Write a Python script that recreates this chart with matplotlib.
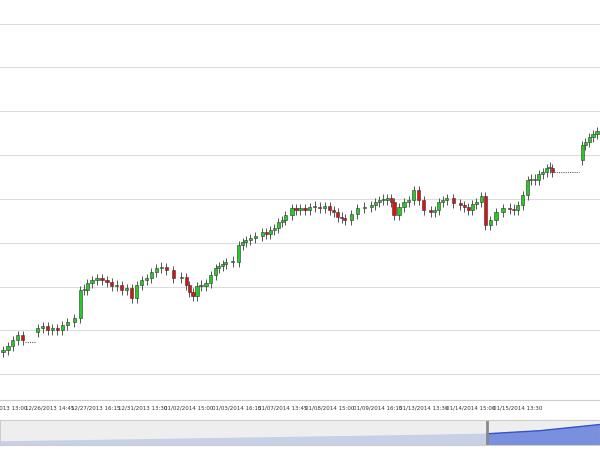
import matplotlib
matplotlib.use("Agg")
import matplotlib.pyplot as plt
import numpy as np

# candle x positions (time slot) and closing prices
xs = [0,5,10,15,20,35,40,45,50,55,60,65,72,78,82,85,90,95,100,105,110,115,120,125,130,135,140,145,150,155,160,165,172,180,185,188,192,196,200,205,210,215,218,222,225,232,238,242,245,250,255,262,266,270,274,278,282,285,292,296,300,305,310,315,320,325,330,334,338,342,345,352,358,365,372,376,380,384,388,392,395,400,405,410,415,420,425,432,436,440,444,448,455,462,466,470,474,478,483,487,492,498,505,512,516,520,525,530,533,537,541,545,549,552,555,585,588,592,596,600]
closes = [5.0,5.4,6.0,6.5,6.0,7.2,7.4,7.0,7.2,7.0,7.5,7.8,8.2,11.0,11.0,11.7,12.0,12.2,12.0,11.8,11.4,11.5,11.0,11.2,10.2,11.5,12.0,12.2,12.8,13.2,13.3,13.0,12.2,12.3,11.5,10.8,10.4,11.4,11.4,11.7,12.5,13.2,13.4,13.6,13.8,13.8,15.5,15.8,16.0,16.2,16.4,16.8,16.6,17.0,17.2,17.8,18.0,18.5,19.2,19.0,19.2,19.0,19.3,19.3,19.2,19.4,19.0,18.8,18.3,18.2,18.0,18.6,19.2,19.3,19.5,19.8,20.0,20.0,20.2,19.8,18.5,19.3,19.8,20.0,21.0,20.0,19.0,18.8,19.0,19.8,20.0,20.2,19.7,19.5,19.3,19.0,19.6,19.8,20.4,17.5,18.0,18.8,19.2,19.1,19.0,19.5,20.5,22.0,22.0,22.0,22.6,22.8,23.2,23.2,22.8,25.5,25.8,26.3,26.6,26.9]
opens = [4.8] + closes[:-1]
opens[5] = 6.8
opens[115] = 24.0
wick = 0.45
# dotted flat lines (no-trade periods)
flat_segments = [(22, 33, 5.8), (557, 582, 22.8)]
tick_pos = [0,47,94,141,188,236,283,330,378,425,472,520]
tick_labels = ["12/24/2013 13:00","12/26/2013 14:45","12/27/2013 16:15","12/31/2013 13:30",
               "01/02/2014 15:00","01/03/2014 16:15","01/07/2014 13:45","01/08/2014 15:00",
               "01/09/2014 16:15","01/13/2014 13:30","01/14/2014 15:00","01/15/2014 13:30"]
grid_levels = [2.6,7.0,11.3,15.7,20.1,24.5,28.9,33.3,37.6]
nav_x = [0,100,200,300,400,486,487,540,600]
nav_y = [1.0,1.5,2.0,2.5,3.0,3.5,3.5,4.5,6.5]

fig = plt.figure(figsize=(6,4.5), dpi=100)
ax = fig.add_axes([0,0.111,1,0.889])
ax.set_xlim(-3,603); ax.set_ylim(0,40)
for g in grid_levels:
    ax.axhline(g, color="#dcdcdc", lw=0.8, zorder=0)
for x,o,c in zip(xs,opens,closes):
    up = c >= o
    col = "#22cc22" if up else "#dd1111"
    lo, hi = min(o,c), max(o,c)
    if hi-lo < 0.15: hi = lo+0.15
    ax.vlines(x, lo-wick, hi+wick, color="#555555", lw=0.7, zorder=2)
    ax.bar(x, hi-lo, bottom=lo, width=3.2, color=col, edgecolor="#333333", lw=0.4, zorder=3)
for a,b,y in flat_segments:
    ax.plot([a,b],[y,y], ls=(0,(1,1)), color="#666666", lw=0.8)
ax.set_xticks(tick_pos); ax.set_xticklabels(tick_labels, fontsize=4, color="#333333")
ax.tick_params(axis="x", length=0, pad=4)
ax.set_yticks([])
for s in ["left","right","top"]:
    ax.spines[s].set_visible(False)
ax.spines["bottom"].set_color("#cccccc")

nav = fig.add_axes([0,0.012,1,0.055])
nav.set_facecolor("#eeeeee")
nav.set_xlim(0,600); nav.set_ylim(0,8)
nx = np.array(nav_x); ny = np.array(nav_y)
nav.fill_between(nx[:6], 0, ny[:6], color="#c8d0e8")
nav.fill_between(nx[6:], 0, ny[6:], color="#7890dd")
nav.plot(nx[6:], ny[6:], color="#3355cc", lw=1)
nav.axvline(487, color="#888888", lw=2)
nav.set_xticks([]); nav.set_yticks([])
for s in nav.spines.values(): s.set_color("#cccccc")
fig.savefig("out.png", dpi=100)
